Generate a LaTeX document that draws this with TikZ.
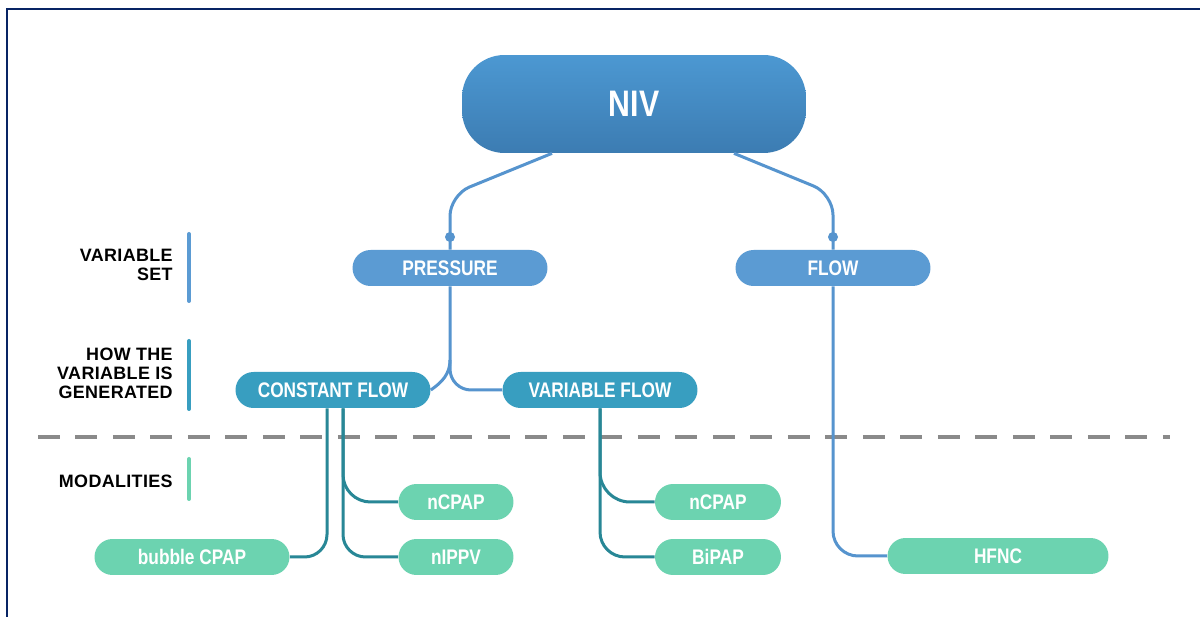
\documentclass[tikz,border=0pt]{standalone}
\usepackage{fontspec}
\setmainfont{Liberation Sans}
\newfontfamily\pillfont[FakeStretch=0.82]{Liberation Sans}
\newfontfamily\tagfont[LetterSpace=2]{Liberation Sans}
\definecolor{framenavy}{RGB}{8,36,100}
\definecolor{nivtop}{RGB}{76,152,210}
\definecolor{nivbot}{RGB}{60,124,178}
\definecolor{setblue}{RGB}{91,155,211}
\definecolor{genteal}{RGB}{56,158,192}
\definecolor{modmint}{RGB}{108,211,176}
\definecolor{linkblue}{RGB}{86,148,206}
\definecolor{linkteal}{RGB}{40,135,150}
\definecolor{dashgray}{RGB}{138,138,138}
\begin{document}
\begin{tikzpicture}[x=0.02cm,y=-0.02cm,
  pill/.style={rectangle, rounded corners=0.36cm, minimum height=0.72cm,
    inner sep=0pt, text=white, font=\pillfont\bfseries\fontsize{12}{13}\selectfont},
  setpill/.style={pill, fill=setblue, minimum width=3.9cm},
  genpill/.style={pill, fill=genteal, minimum width=3.9cm},
  modpill/.style={pill, fill=modmint},
  bluelink/.style={draw=linkblue, line width=0.06cm, rounded corners=0.42cm},
  teallink/.style={draw=linkteal, line width=0.06cm, rounded corners=0.45cm},
  tag/.style={anchor=east, align=right, inner sep=0pt,
    font=\tagfont\bfseries\fontsize{10.2}{10.8}\selectfont, text=black},
  tagbar/.style={line width=0.08cm, line cap=round}]
\useasboundingbox (0,0) rectangle (1200,617);
\fill[white] (0,0) rectangle (1200,617);
% frame edges
\draw[framenavy, line width=0.05cm] (7,617) -- (7,9) -- (1200,9);

% separator between generation and modalities
\draw[dashgray, line width=0.08cm, dash pattern=on 0.44cm off 0.31cm] (38,437) -- (1170,437);

% row labels with their marker bars
\node[tag] (lblset) at (173,265) {VARIABLE\\SET};
\draw[tagbar, setblue] (189,234) -- (189,301);
\node[tag] (lblhow) at (173,373) {HOW THE\\VARIABLE IS\\GENERATED};
\draw[tagbar, genteal] (189,341) -- (189,409);
\node[tag] (lblmod) at (173,481) {MODALITIES};
\draw[tagbar, modmint] (189,459) -- (189,499);

% root
\node[rectangle, rounded corners=0.85cm, minimum width=6.88cm, minimum height=1.96cm,
  top color=nivtop, bottom color=nivbot, draw=none, text=white,
  font=\pillfont\bfseries\fontsize{21}{24}\selectfont] (niv) at (634,104) {NIV};

% variable set
\node[setpill] (pres) at (450,268) {PRESSURE};
\node[setpill] (flow) at (833,268) {FLOW};

% how the variable is generated
\node[genpill] (cf) at (333,390) {CONSTANT FLOW};
\node[genpill] (vf) at (600,390) {VARIABLE FLOW};

% modalities
\node[modpill, minimum width=3.9cm] (bub) at (192,557) {bubble CPAP};
\node[modpill, minimum width=2.3cm] (ncpa) at (456,502) {nCPAP};
\node[modpill, minimum width=2.3cm] (nippv) at (456,557) {nIPPV};
\node[modpill, minimum width=2.52cm] (ncpb) at (718,502) {nCPAP};
\node[modpill, minimum width=2.52cm] (bipap) at (718,557) {BiPAP};
\node[modpill, minimum width=4.42cm] (hfnc) at (998,556) {HFNC};

% root to variable set
\draw[bluelink] ([xshift=-1.64cm]niv.south) -- (450,195) -- (pres.north);
\draw[bluelink] ([xshift=2cm]niv.south) -- (833,194) -- (flow.north);
\fill[linkblue] (450,237) circle (0.1cm);
\fill[linkblue] (833,237) circle (0.1cm);

% pressure to its generators
\draw[bluelink] (pres.south) |- (vf.west);
\draw[draw=linkblue, line width=0.06cm] (450,360) to[out=-90,in=35] (cf.east);

% flow to HFNC
\draw[bluelink, rounded corners=0.5cm] (flow.south) |- (hfnc.west);

% generators to modalities
\draw[teallink] ([xshift=-0.12cm]cf.south) |- (bub.east);
\draw[teallink] ([xshift=0.2cm]cf.south) |- (nippv.west);
\draw[teallink, rounded corners=0.55cm] ([xshift=0.2cm]cf.south) |- (ncpa.west);
\draw[teallink, rounded corners=0.5cm] (vf.south) |- (bipap.west);
\draw[teallink, rounded corners=0.6cm] (vf.south) |- (ncpb.west);
\end{tikzpicture}
\end{document}
